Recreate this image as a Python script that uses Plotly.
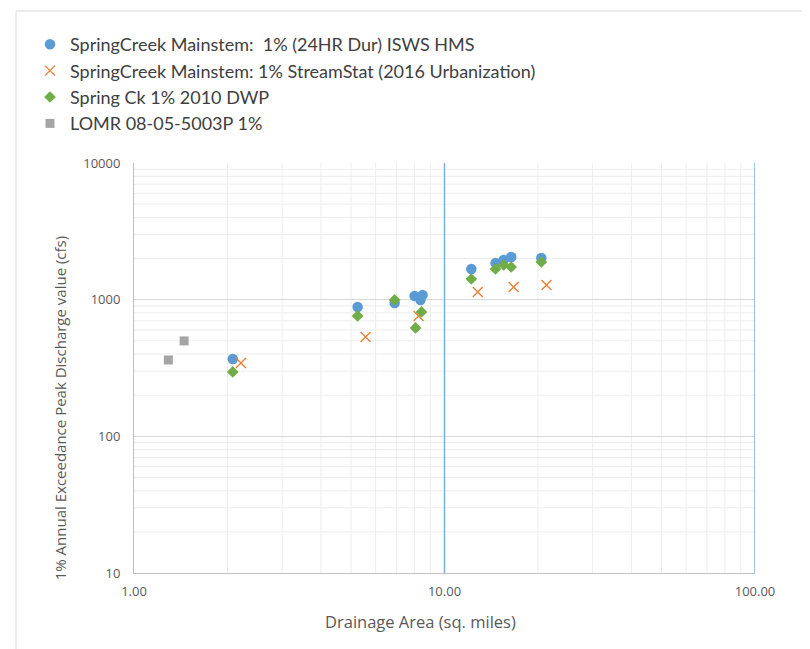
import plotly.graph_objects as go

# ---- data ----
hms_area = [2.08, 5.25, 6.91, 8.01, 8.37, 8.50, 12.2, 14.6, 15.5, 16.4, 20.5]
hms_q = [368, 885, 946, 1064, 995, 1080, 1678, 1855, 1950, 2053, 2018]

ss_area = [2.21, 5.57, 8.25, 12.8, 16.7, 21.3]
ss_q = [344, 533, 760, 1138, 1238, 1281]

dwp_area = [2.08, 5.25, 6.91, 8.07, 8.43, 12.2, 14.6, 15.5, 16.4, 20.5]
dwp_q = [296, 760, 995, 621, 813, 1417, 1678, 1795, 1734, 1887]

lomr_area = [1.29, 1.45]
lomr_q = [362, 499]

x_tickvals = [1, 10, 100]
x_ticktext = ["1.00", "10.00", "100.00"]
y_tickvals = [10, 100, 1000, 10000]
y_ticktext = ["10", "100", "1000", "10000"]

names = [
    "SpringCreek Mainstem:  1% (24HR Dur) ISWS HMS",
    "SpringCreek Mainstem: 1% StreamStat (2016 Urbanization)",
    "Spring Ck 1% 2010 DWP",
    "LOMR 08-05-5003P 1%",
]
x_title = "Drainage Area (sq. miles)"
y_title = "1% Annual Exceedance Peak Discharge value (cfs)"

fig = go.Figure()
fig.add_trace(go.Scatter(x=hms_area, y=hms_q, mode="markers", name=names[0],
                         marker=dict(symbol="circle", size=10.5, color="#5B9BD5")))
fig.add_trace(go.Scatter(x=ss_area, y=ss_q, mode="markers", name=names[1],
                         marker=dict(symbol="x-thin-open", size=10, color="#ED7D31",
                                     line=dict(width=1.3, color="#ED7D31"))))
fig.add_trace(go.Scatter(x=dwp_area, y=dwp_q, mode="markers", name=names[2],
                         marker=dict(symbol="diamond", size=9, color="#70AD47")))
fig.add_trace(go.Scatter(x=lomr_area, y=lomr_q, mode="markers", name=names[3],
                         marker=dict(symbol="square", size=9, color="#A5A5A5")))

shapes = []
# minor grid lines
for base in [1, 10]:
    for m in range(2, 10):
        shapes.append(dict(type="line", xref="x", yref="paper", x0=base * m, x1=base * m,
                           y0=0, y1=1, line=dict(color="#EDEDED", width=1), layer="below"))
for base in [10, 100, 1000]:
    for m in range(2, 10):
        shapes.append(dict(type="line", xref="paper", yref="y", x0=0, x1=1,
                           y0=base * m, y1=base * m, line=dict(color="#EDEDED", width=1), layer="below"))
# blue vertical lines at 10 and 100
for xv in [10, 100]:
    shapes.append(dict(type="line", xref="x", yref="paper", x0=xv, x1=xv, y0=0, y1=1,
                       line=dict(color="#7EB0E0", width=1.5)))
# outer frame (chart area)
shapes.append(dict(type="line", xref="paper", yref="paper", x0=-0.190, x1=1.2, y0=1.3707, y1=1.3707,
                   line=dict(color="#D9D9D9", width=1)))
shapes.append(dict(type="line", xref="paper", yref="paper", x0=-0.190, x1=-0.190, y0=1.3707, y1=-0.2,
                   line=dict(color="#D9D9D9", width=1)))

fig.update_layout(
    width=802, height=641,
    margin=dict(l=126, r=55, t=155, b=76, autoexpand=False),
    paper_bgcolor="white", plot_bgcolor="white",
    font=dict(family="Open Sans, Lato, sans-serif", color="#595959"),
    showlegend=True,
    legend=dict(xref="container", yref="container", x=22 / 802, y=1 - 18 / 641,
                xanchor="left", yanchor="top",
                font=dict(family="Lato, Open Sans, sans-serif", size=18, color="#404040"),
                itemsizing="trace", bgcolor="rgba(0,0,0,0)", tracegroupgap=0),
    shapes=shapes,
    annotations=[
        dict(text=x_title, xref="paper", yref="paper", x=0.462, y=-0.1195,
             xanchor="center", yanchor="middle", showarrow=False,
             font=dict(size=16.5, color="#595959")),
        dict(text=y_title, xref="paper", yref="paper", x=-0.119, y=0.402,
             xanchor="center", yanchor="middle", showarrow=False, textangle=-90,
             font=dict(size=15, color="#595959")),
    ],
    xaxis=dict(type="log", range=[0, 2], tickvals=x_tickvals, ticktext=x_ticktext,
               showgrid=True, gridcolor="#D9D9D9", gridwidth=1,
               showline=True, linecolor="#BFBFBF", linewidth=1, zeroline=False,
               ticks="", tickfont=dict(size=13, color="#595959"), ticklabelstandoff=6),
    yaxis=dict(type="log", range=[1, 4], tickvals=y_tickvals, ticktext=y_ticktext,
               showgrid=True, gridcolor="#D9D9D9", gridwidth=1,
               showline=True, linecolor="#BFBFBF", linewidth=1, zeroline=False,
               ticks="", tickfont=dict(size=13, color="#595959"), ticklabelstandoff=10),
)

fig.write_html("out.html")
